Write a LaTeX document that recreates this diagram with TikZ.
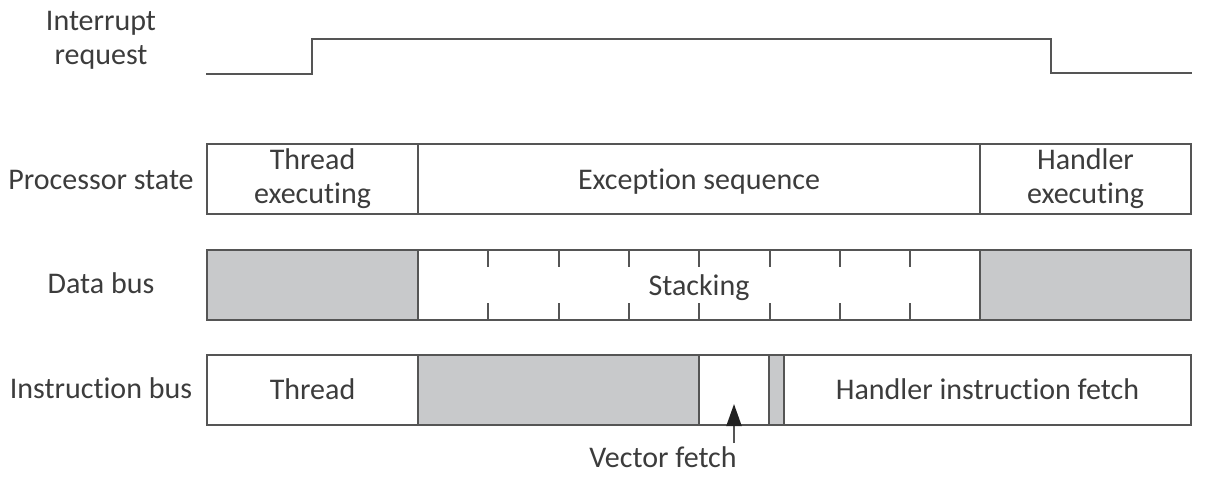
\documentclass[tikz,border=0pt]{standalone}
\usepackage{fontspec}
\setmainfont{Carlito}[Ligatures=NoCommon]
\usetikzlibrary{arrows.meta}
\definecolor{ln}{HTML}{555555}
\definecolor{sh}{HTML}{C8C9CB}
\definecolor{tx}{HTML}{3C3C3C}
\definecolor{ah}{HTML}{222222}
\begin{document}
\begin{tikzpicture}[x=1pt,y=-1pt,
  txt/.style={text=tx, font=\fontsize{30}{34}\selectfont},
  seg/.style={txt, draw=ln, line width=2pt, inner sep=0pt, minimum height=70pt, align=center},
  one/.style={text height=20pt, text depth=0pt},
  shaded/.style={seg, fill=sh},
  lbl/.style={txt, inner sep=0pt, align=center},
  wire/.style={draw=ln, line width=2pt},
  tickmark/.style={draw=ln, line width=2pt}]
\useasboundingbox (0,0) rectangle (1212,482);

% interrupt request waveform
\node[lbl] (irq) at (101,40.5) {Interrupt\\request};
\coordinate (w0) at (206,74);
\coordinate (w1) at (312,74);
\coordinate (w2) at (312,39);
\coordinate (w3) at (1051,39);
\coordinate (w4) at (1051,73);
\coordinate (w5) at (1192,73);
\draw[wire] (w0) -- (w1) -- (w2) -- (w3) -- (w4) -- (w5);

% row labels
\node[lbl, anchor=base] (lps) at (101,189) {Processor state};
\node[lbl, anchor=base] (ldb) at (101,293) {Data bus};
\node[lbl, anchor=base] (lib) at (101,398) {Instruction bus};

% processor state
\node[seg, minimum width=211pt] (ps1) at (312.5,179) {Thread\\executing};
\node[seg, one, minimum width=562pt] (ps2) at (699,179) {Exception sequence};
\node[seg, minimum width=211pt] (ps3) at (1085.5,179) {Handler\\executing};

% data bus
\node[shaded, minimum width=211pt] (db1) at (312.5,285) {};
\node[seg, one, minimum width=562pt] (db2) at (699,285) {Stacking};
\node[shaded, minimum width=211pt] (db3) at (1085.5,285) {};
\foreach \i in {1,...,7}{
  \coordinate (tt\i) at (418+70.3*\i,250);
  \coordinate (bt\i) at (418+70.3*\i,320);
  \draw[tickmark] (tt\i) -- ++(0,17);
  \draw[tickmark] (bt\i) -- ++(0,-17);
}

% instruction bus
\node[seg, one, minimum width=211pt] (ib1) at (312.5,389.5) {Thread};
\node[shaded, minimum width=281pt] (ib2) at (558.5,389.5) {};
\node[seg, minimum width=70pt] (ib3) at (734,389.5) {};
\node[shaded, minimum width=15pt] (ib4) at (776.5,389.5) {};
\node[seg, one, minimum width=407pt] (ib5) at (987.5,389.5) {Handler instruction fetch};

% vector fetch
\node[lbl, anchor=base] (vf) at (663,467) {Vector fetch};
\coordinate (vtail) at (734,443);
\coordinate (vtip) at (734,404);
\draw[wire, -{Triangle[width=15pt,length=22pt,color=ah]}] (vtail) -- (vtip);
\end{tikzpicture}
\end{document}
